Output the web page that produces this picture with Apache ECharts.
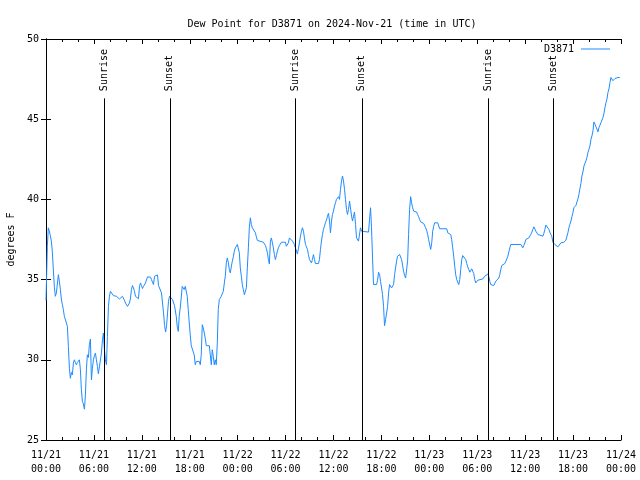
<!DOCTYPE html>
<html>
<head>
<meta charset="utf-8">
<script src="https://cdn.jsdelivr.net/npm/echarts@6/dist/echarts.min.js"></script>
<style>
html,body{margin:0;padding:0;background:#fff;}
#chart{width:640px;height:480px;}
</style>
</head>
<body>
<div id="chart"></div>
<script>
// hours since 2024-11-21 00:00 UTC
var hours = [
0.00,0.17,0.29,0.42,0.54,0.67,0.79,0.92,1.05,1.17,1.30,1.42,1.55,1.67,1.80,1.92,2.05,2.17,2.30,2.42,2.55,2.68,2.80,2.93,3.05,3.18,3.30,3.43,3.55,3.68,3.80,3.93,4.06,4.18,4.31,4.43,4.56,4.68,4.81,4.93,5.06,5.18,5.31,5.43,5.56,5.69,5.81,5.94,6.06,6.19,6.31,6.44,6.56,6.81,6.94,7.07,7.19,7.32,7.44,7.57,7.69,7.82,7.94,8.07,8.19,8.32,8.44,8.57,8.82,9.07,9.20,9.32,9.45,9.57,9.70,9.82,9.95,10.07,10.20,10.33,10.45,10.58,10.70,10.83,10.95,11.08,11.20,11.33,11.58,11.71,11.83,11.96,12.08,12.21,12.33,12.46,12.58,12.71,12.96,13.09,13.21,13.34,13.46,13.59,13.71,13.96,14.09,14.21,14.34,14.46,14.59,14.72,14.84,14.97,15.09,15.22,15.34,15.47,15.59,15.72,15.84,15.97,16.09,
16.18,16.31,16.43,16.56,16.68,16.81,16.93,17.06,17.19,17.31,17.44,17.56,17.69,17.81,17.94,18.06,18.19,18.44,18.56,18.69,18.82,18.94,19.07,19.19,19.32,19.44,19.57,19.69,19.82,19.94,20.07,20.45,20.57,20.70,20.82,20.95,21.07,21.20,21.32,21.45,21.57,21.70,21.83,21.95,22.08,22.20,22.33,22.45,22.58,22.70,22.83,22.95,23.08,23.20,23.33,23.46,23.58,23.71,23.83,23.96,24.08,24.21,24.33,24.46,24.58,24.71,24.84,24.96,25.09,25.21,25.34,25.46,25.59,25.71,25.84,26.09,26.22,26.34,26.47,26.59,27.22,27.34,27.47,27.59,27.72,27.85,27.97,28.10,28.22,28.35,28.47,28.60,28.72,28.85,28.97,29.10,29.23,29.35,29.48,29.98,30.10,30.23,30.35,30.48,
30.61,30.73,30.86,30.98,31.11,31.23,31.36,31.48,31.61,31.73,31.86,31.99,32.11,32.24,32.36,32.49,32.61,32.74,32.86,32.99,33.11,33.24,33.36,33.49,33.62,33.74,34.12,34.24,34.37,34.49,34.62,34.74,34.87,34.99,35.12,35.25,35.37,35.50,35.62,35.75,35.87,36.00,36.12,36.25,36.37,36.50,36.63,36.75,36.88,37.00,37.13,37.25,37.38,37.50,37.63,37.75,37.88,38.01,38.13,38.26,38.38,38.51,38.63,38.76,38.88,39.01,39.13,39.26,39.38,39.51,39.64,40.39,40.51,40.64,40.76,40.89,41.01,41.39,41.52,41.64,41.77,41.89,42.02,42.14,42.27,42.39,42.52,42.65,42.77,42.90,43.02,43.15,43.27,43.40,43.52,43.65,43.77,43.90,44.02,44.15,44.28,44.40,44.53,44.65,44.78,44.90,45.03,45.15,45.28,45.40,45.53,45.66,45.78,45.91,46.03,46.16,46.41,46.53,46.66,46.78,46.91,47.04,47.29,47.41,47.54,47.66,47.79,47.91,
48.04,48.17,48.30,48.42,48.55,48.67,49.05,49.17,49.30,50.18,50.30,50.68,50.80,50.93,51.05,51.18,51.30,51.43,51.56,51.68,51.81,51.93,52.06,52.18,52.31,52.43,52.56,52.68,52.81,52.94,53.06,53.19,53.31,53.44,53.56,53.69,53.81,53.94,54.06,54.19,54.69,54.82,54.94,55.07,55.19,55.32,55.44,55.57,55.69,55.82,56.07,56.20,56.32,56.45,56.57,56.70,56.82,56.95,57.07,57.20,57.45,57.58,57.70,57.83,57.95,58.08,58.20,59.46,59.58,59.71,59.83,59.96,60.08,60.21,60.46,60.59,60.71,60.84,60.96,61.09,61.21,61.34,61.46,61.59,61.71,62.22,62.34,62.47,62.59,62.72,62.84,62.97,63.09,63.22,63.35,63.47,63.60,63.72,63.85,63.97,64.10,
64.22,64.35,64.47,64.72,64.85,64.98,65.10,65.23,65.35,65.48,65.60,65.73,65.85,65.98,66.10,66.36,66.48,66.61,66.73,66.86,66.98,67.11,67.23,67.36,67.48,67.61,67.73,67.86,67.99,68.11,68.24,68.36,68.49,68.61,68.74,68.86,68.99,69.11,69.24,69.37,69.49,69.62,69.74,69.87,69.99,70.12,70.24,70.37,70.49,70.62,70.74,70.87,70.99,71.12,71.25,71.37,71.62,71.85
];
var dewPoint = [
33.70,37.08,38.23,38.02,37.75,37.40,36.77,35.60,34.52,33.96,34.17,34.27,35.31,34.90,34.38,33.79,33.44,33.13,32.71,32.81,32.75,32.08,30.83,29.48,28.85,29.21,29.06,29.79,30.00,29.83,29.69,29.83,29.90,30.00,29.38,28.13,27.40,27.25,26.92,27.75,29.42,30.31,30.15,30.94,31.29,28.75,29.48,30.00,30.25,30.42,30.00,29.58,29.13,29.13,30.42,31.25,31.67,30.63,30.00,29.69,31.46,33.33,33.96,34.27,34.31,34.17,34.00,33.96,33.96,33.90,33.79,33.71,33.85,33.96,33.85,33.71,33.54,33.42,33.33,33.27,33.54,33.85,34.38,34.63,34.48,34.27,33.96,33.85,33.81,34.58,34.79,34.63,34.44,34.58,34.67,34.79,34.90,35.17,35.17,35.15,35.00,35.00,34.69,35.21,35.29,35.29,34.63,34.48,34.38,34.17,33.54,32.92,32.19,31.73,32.08,32.92,33.65,33.96,33.96,33.92,33.75,33.65,33.38,
33.33,32.71,32.08,31.77,32.71,33.23,33.85,34.58,34.48,34.38,34.58,34.69,33.96,33.13,32.29,31.56,30.88,30.88,30.31,29.69,29.90,30.00,30.00,29.90,29.69,30.31,32.19,31.98,31.67,31.35,30.88,30.88,30.31,29.69,30.63,30.21,29.69,30.00,29.69,31.04,33.13,33.75,33.65,33.96,34.06,34.27,34.79,35.21,36.04,36.35,36.08,35.63,35.42,35.79,36.15,36.42,36.77,36.98,37.08,37.19,37.29,36.67,35.73,35.21,34.69,34.38,34.06,33.96,34.48,35.73,36.98,38.23,38.85,38.44,38.23,38.17,37.92,37.67,37.44,37.33,37.33,37.29,37.13,36.94,36.67,36.25,35.98,37.40,37.60,37.29,36.98,36.56,36.25,36.50,36.77,36.98,37.13,37.25,37.33,37.33,37.08,36.98,37.29,37.60,
37.54,37.50,37.40,37.29,37.19,36.98,36.88,36.60,36.92,37.29,37.71,38.02,38.23,38.02,37.60,37.19,37.04,36.88,36.56,36.25,36.15,36.04,36.25,36.56,36.25,36.00,36.00,36.25,36.88,37.40,37.81,38.13,38.33,38.54,38.71,38.96,39.13,38.65,37.92,38.65,39.06,39.27,39.58,39.79,40.00,40.10,40.17,40.00,40.63,41.15,41.46,41.15,40.63,40.00,39.38,39.06,39.38,39.90,39.79,38.96,38.65,38.96,39.21,38.44,37.60,37.50,37.40,37.29,38.23,38.02,37.96,37.96,38.75,39.48,38.23,36.35,34.69,34.69,34.96,35.46,35.31,34.90,34.48,34.06,33.33,32.13,32.50,32.92,33.33,34.17,34.69,34.58,34.48,34.38,34.69,35.31,35.73,36.15,36.46,36.56,36.56,36.46,36.25,35.88,35.52,35.25,35.10,35.00,36.15,37.81,39.38,40.17,39.79,39.48,39.27,39.23,39.21,39.06,38.92,38.75,38.60,38.54,38.50,38.38,38.23,38.08,37.81,37.50,
37.40,36.88,37.29,38.02,38.33,38.54,38.54,38.44,38.17,38.17,37.92,37.81,37.50,36.98,36.46,35.83,35.31,35.00,34.90,34.69,35.00,35.63,36.25,36.50,36.50,36.42,36.25,36.00,35.79,35.63,35.46,35.58,35.67,35.73,35.38,35.00,34.79,34.90,34.96,35.04,35.04,35.10,35.21,35.25,35.31,35.35,35.21,34.90,34.69,34.63,34.63,34.75,34.90,34.96,35.00,35.10,35.31,35.63,35.88,35.94,36.00,36.15,36.29,36.46,36.71,36.98,37.19,37.19,37.08,36.98,37.13,37.29,37.50,37.60,37.60,37.71,37.81,37.96,38.13,38.29,38.17,38.02,37.92,37.81,37.71,37.71,37.88,38.13,38.40,38.44,38.29,38.13,37.96,37.81,37.67,37.33,37.25,37.19,37.13,37.08,37.04,
37.04,37.13,37.29,37.29,37.33,37.40,37.46,37.54,37.92,38.23,38.44,38.65,38.92,39.17,39.48,39.63,39.75,40.04,40.31,40.67,41.00,41.46,41.71,42.08,42.19,42.40,42.60,42.92,43.13,43.33,43.75,43.96,44.27,44.83,44.69,44.54,44.38,44.21,44.48,44.63,44.79,44.90,45.10,45.38,45.73,46.04,46.25,46.67,46.88,47.29,47.60,47.54,47.40,47.40,47.54,47.60,47.60,47.60
];
var sunTimes = [7.30, 15.50, 31.25, 39.55, 55.35, 63.55];
var sunNames = ['Sunrise', 'Sunset', 'Sunrise', 'Sunset', 'Sunrise', 'Sunset'];
var yTicks = [25, 30, 35, 40, 45, 50];
var seriesName = 'D3871';
var titleText = 'Dew Point for D3871 on 2024-Nov-21 (time in UTC)';
var yName = 'degrees F';

var FONT = 'DejaVu Sans Mono';
var LINE_COLOR = '#1E8CFF';
var data = hours.map(function (h, i) { return [h, dewPoint[i]]; });

var lineTop = 46.3;   // where sunrise/sunset lines end (below their labels)
var labelBase = 46.75;

var markLineData = sunTimes.map(function (t) {
  return [{ xAxis: t, yAxis: 25 }, { xAxis: t, yAxis: lineTop }];
});
var markPointData = sunTimes.map(function (t, i) {
  return { coord: [t, labelBase], name: sunNames[i],
    label: { formatter: sunNames[i] } };
});

function xLabel(v) {
  var day = 21 + Math.floor(v / 24);
  var hr = v % 24;
  return '11/' + day + '\n' + (hr < 10 ? '0' : '') + hr + ':00';
}

var chart = echarts.init(document.getElementById('chart'), null, { renderer: 'canvas' });
chart.setOption({
  animation: false,
  backgroundColor: '#ffffff',
  textStyle: { fontFamily: FONT },
  title: {
    text: titleText,
    left: 327, top: 14, textAlign: 'center',
    textStyle: { fontFamily: FONT, fontSize: 10, fontWeight: 'normal', color: '#000' }
  },
  legend: {
    data: [{ name: seriesName, icon: 'rect', itemStyle: { color: LINE_COLOR } }],
    right: 30, top: 44,
    align: 'right',
    itemWidth: 29, itemHeight: 1, itemGap: 0,
    padding: 0,
    textStyle: { fontFamily: FONT, fontSize: 10, color: '#000', padding: [0, 2, 0, 0] }
  },
  grid: { left: 46, right: 19, top: 39, bottom: 40, containLabel: false, outerBoundsMode: 'none' },
  xAxis: [{
    type: 'value', min: 0, max: 72, interval: 6, position: 'bottom',
    axisLine: { show: true, lineStyle: { color: '#000', width: 1 } },
    axisTick: { show: true, inside: true, length: 5, lineStyle: { color: '#000' } },
    minorTick: { show: true, splitNumber: 3, length: 3, lineStyle: { color: '#000' } },
    splitLine: { show: false },
    axisLabel: { formatter: xLabel, fontFamily: FONT, fontSize: 10, color: '#000', lineHeight: 14, margin: 8 }
  }, {
    type: 'value', min: 0, max: 72, interval: 6, position: 'top',
    axisLine: { show: true, lineStyle: { color: '#000', width: 1 } },
    axisTick: { show: true, inside: true, length: 5, lineStyle: { color: '#000' } },
    minorTick: { show: true, splitNumber: 3, length: 3, lineStyle: { color: '#000' } },
    splitLine: { show: false },
    axisLabel: { show: false }
  }],
  yAxis: [{
    type: 'value', min: yTicks[0], max: yTicks[yTicks.length - 1], interval: 5, position: 'left',
    name: yName, nameLocation: 'middle', nameRotate: 90, nameGap: 30,
    nameTextStyle: { fontFamily: FONT, fontSize: 10, color: '#000' },
    axisLine: { show: true, lineStyle: { color: '#000', width: 1 } },
    axisTick: { show: true, inside: true, length: 5, lineStyle: { color: '#000' } },
    splitLine: { show: false },
    axisLabel: { fontFamily: FONT, fontSize: 10, color: '#000', margin: 7 }
  }, {
    type: 'value', min: yTicks[0], max: yTicks[yTicks.length - 1], interval: 5, position: 'right',
    axisLine: { show: true, lineStyle: { color: '#000', width: 1 } },
    axisTick: { show: true, inside: true, length: 5, lineStyle: { color: '#000' } },
    splitLine: { show: false },
    axisLabel: { show: false }
  }],
  series: [{
    name: seriesName,
    type: 'line',
    data: data,
    symbol: 'none',
    showSymbol: false,
    lineStyle: { color: LINE_COLOR, width: 1 },
    itemStyle: { color: LINE_COLOR },
    z: 3,
    markLine: {
      silent: true, symbol: ['none', 'none'],
      label: { show: false },
      lineStyle: { color: '#000', width: 1, type: 'solid' },
      emphasis: { disabled: true },
      data: markLineData
    },
    markPoint: {
      silent: true,
      symbol: 'circle', symbolSize: 1,
      itemStyle: { color: 'rgba(0,0,0,0)' },
      label: {
        show: true, position: 'inside', rotate: 90, align: 'left', verticalAlign: 'middle',
        fontFamily: FONT, fontSize: 10, color: '#000'
      },
      data: markPointData
    }
  }]
});
</script>
</body>
</html>
